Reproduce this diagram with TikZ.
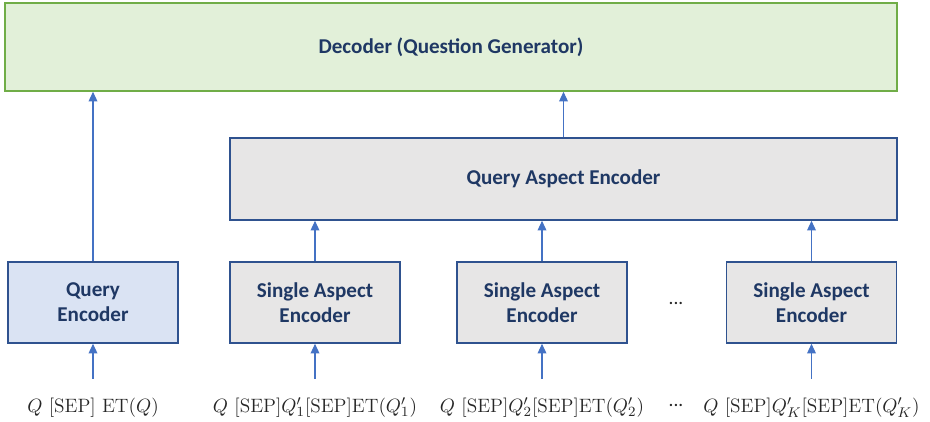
\documentclass[tikz,border=0pt]{standalone}
\usepackage{fontspec}
\usepackage{xcolor}
\usepackage{tikz}
\usetikzlibrary{arrows.meta,positioning}
\newfontfamily\boxfont{Carlito}
\definecolor{decfill}{HTML}{E2F0D9}
\definecolor{decline}{HTML}{70AD47}
\definecolor{encfill}{HTML}{E7E6E6}
\definecolor{qencfill}{HTML}{DAE3F3}
\definecolor{encline}{HTML}{2F528F}
\definecolor{textnavy}{HTML}{1F3864}
\definecolor{arrowblue}{HTML}{4472C4}
\tikzset{
  decoder/.style={draw=decline, line width=0.9pt, fill=decfill, align=center, minimum width=17.84cm, minimum height=1.76cm, font=\boxfont\bfseries\fontsize{12}{14.2}\selectfont, text=textnavy},
  encoder/.style={draw=encline, line width=0.9pt, fill=encfill, align=center, minimum width=3.4cm, minimum height=1.62cm, font=\boxfont\bfseries\fontsize{12}{14.2}\selectfont, text=textnavy},
  qencoder/.style={encoder, fill=qencfill},
  aspectenc/.style={encoder, minimum width=13.34cm, minimum height=1.64cm},
  inlabel/.style={inner sep=2pt, outer sep=9pt, text height=8pt, text depth=3pt, anchor=base, font=\fontsize{11}{13}\selectfont, text=black!85},
  dots/.style={font=\boxfont\fontsize{11}{13}\selectfont, text=black!85},
  arrow/.style={-{Triangle[length=5.5pt, width=5pt]}, line width=0.6pt, draw=arrowblue}
}
\begin{document}
\begin{tikzpicture}
  \useasboundingbox (0,0) rectangle (18.6,-8.42);

  \node[decoder] (decoder) at (9.02,-0.94) {Decoder (Question Generator)};
  \node[aspectenc] (qae) at (11.27,-3.58) {Query Aspect Encoder};

  \node[qencoder] (qenc) at (1.86,-6.05) {Query\\Encoder};
  \node[encoder] (sae1) at (6.3,-6.05) {Single Aspect\\Encoder};
  \node[encoder] (sae2) at (10.84,-6.05) {Single Aspect\\Encoder};
  \node[encoder] (saek) at (16.23,-6.05) {Single Aspect\\Encoder};
  \node[dots] (encdots) at (13.52,-6.06) {...};

  \node[inlabel] (inq) at (1.86,-8.24) {$Q\ [\mathrm{SEP}]\ \mathrm{ET}(Q)$};
  \node[inlabel] (in1) at (6.3,-8.24) {$Q\ [\mathrm{SEP}]Q'_1[\mathrm{SEP}]\mathrm{ET}(Q'_1)$};
  \node[inlabel] (in2) at (10.84,-8.24) {$Q\ [\mathrm{SEP}]Q'_2[\mathrm{SEP}]\mathrm{ET}(Q'_2)$};
  \node[inlabel] (ink) at (16.23,-8.24) {$Q\ [\mathrm{SEP}]Q'_K[\mathrm{SEP}]\mathrm{ET}(Q'_K)$};
  \node[dots] (indots) at (13.52,-8.1) {...};

  \draw[arrow] (inq) -- (qenc);
  \draw[arrow] (in1) -- (sae1);
  \draw[arrow] (in2) -- (sae2);
  \draw[arrow] (ink) -- (saek);

  \draw[arrow] (sae1) -- (sae1 |- qae.south);
  \draw[arrow] (sae2) -- (sae2 |- qae.south);
  \draw[arrow] (saek) -- (saek |- qae.south);

  \draw[arrow] (qenc) -- (qenc |- decoder.south);
  \draw[arrow] (qae) -- (qae.north |- decoder.south);
\end{tikzpicture}
\end{document}
